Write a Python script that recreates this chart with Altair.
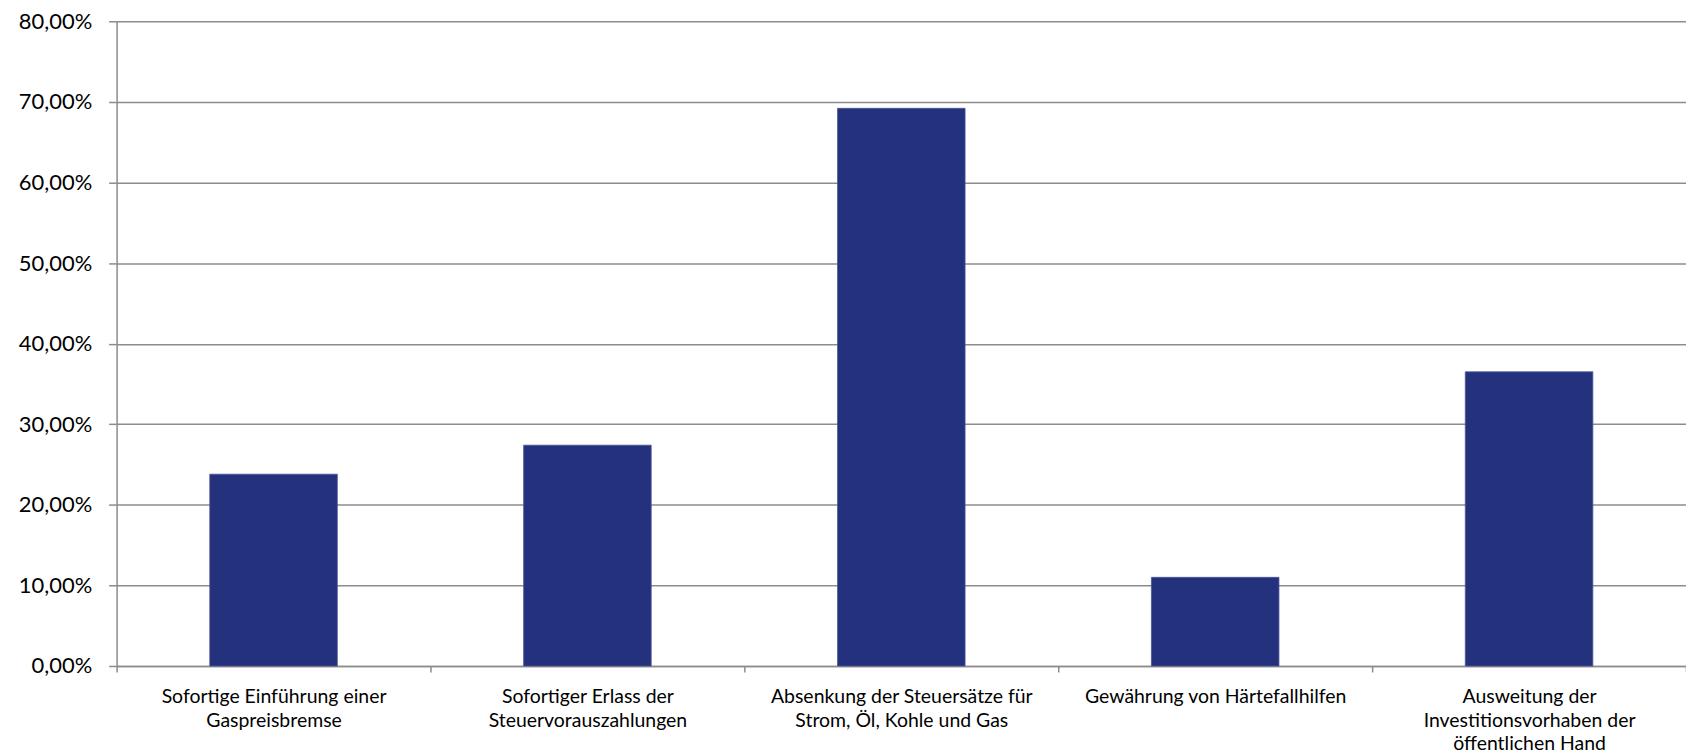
import altair as alt
import pandas as pd

# Category labels (line-broken as in the reference)
label_lines = [
    ["Sofortige Einführung einer", "Gaspreisbremse"],
    ["Sofortiger Erlass der", "Steuervorauszahlungen"],
    ["Absenkung der Steuersätze für", "Strom, Öl, Kohle und Gas"],
    ["Gewährung von Härtefallhilfen"],
    ["Ausweitung der", "Investitionsvorhaben der", "öffentlichen Hand"],
]
values = [0.238, 0.274, 0.692, 0.110, 0.365]
y_ticks = [0.0, 0.1, 0.2, 0.3, 0.4, 0.5, 0.6, 0.7, 0.8]

categories = ["|".join(l) for l in label_lines]
df = pd.DataFrame({"Maßnahme": categories, "Anteil": values})

GRAY = "#8c8c8c"
FONT = "Lato"

chart = (
    alt.Chart(df)
    .mark_bar(size=128, color="#24317d", stroke="#4a5594", strokeWidth=0.8)
    .encode(
        x=alt.X(
            "Maßnahme:N",
            sort=categories,
            scale=alt.Scale(paddingInner=0, paddingOuter=0),
            axis=alt.Axis(
                title=None,
                labelAngle=0,
                labelExpr="split(datum.label, '|')",
                tickBand="extent",
                tickSize=6,
                tickColor=GRAY,
                tickWidth=1.5,
                domainColor=GRAY,
                domainWidth=1.5,
                labelFont=FONT,
                labelFontSize=19.5,
                labelColor="#000000",
                labelLineHeight=23.5,
                labelPadding=16,
                labelLimit=500,
                labelOverlap=False,
                grid=False,
            ),
        ),
        y=alt.Y(
            "Anteil:Q",
            scale=alt.Scale(domain=[0, 0.8], nice=False),
            axis=alt.Axis(
                title=None,
                values=y_ticks,
                labelExpr="replace(format(datum.value, '.2%'), '.', ',')",
                tickSize=8,
                tickColor=GRAY,
                tickWidth=1.5,
                domainColor=GRAY,
                domainWidth=1.5,
                gridColor=GRAY,
                gridWidth=1.5,
                labelFont=FONT,
                labelFontSize=22,
                labelColor="#000000",
                labelPadding=17,
            ),
        ),
    )
    .properties(
        width=1575,
        height=647,
        autosize=alt.AutoSizeParams(type="none"),
        padding={"left": 109, "top": 12, "right": 0, "bottom": 88},
    )
    .configure_view(stroke=None)
)

chart.save("out.html", embed_options={"renderer": "svg", "actions": False})
